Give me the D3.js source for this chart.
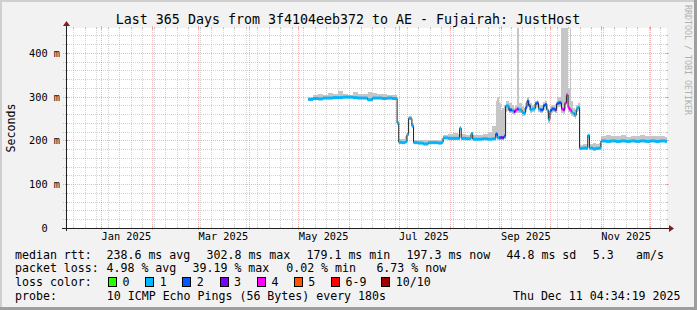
<!DOCTYPE html>
<html>
<head>
<meta charset="utf-8">
<script src="https://cdn.jsdelivr.net/npm/d3@7"></script>
<style>
  body { margin: 0; background: #f2f2f2; }
  svg { display: block; }
  text { font-family: "DejaVu Sans Mono", monospace; white-space: pre; fill: #000; }
</style>
</head>
<body>
<svg id="chart" width="697" height="310"></svg>
<script>
// ---- data ----
var sampleDates = [
  "2025-05-07","2025-05-10","2025-05-13","2025-05-16","2025-05-19","2025-05-22","2025-05-25","2025-05-28",
  "2025-05-31","2025-06-03","2025-06-06","2025-06-09","2025-06-12","2025-06-15","2025-06-18","2025-06-21",
  "2025-06-24","2025-06-27","2025-06-30","2025-07-01","2025-07-03","2025-07-05","2025-07-06","2025-07-07",
  "2025-07-08","2025-07-09","2025-07-10","2025-07-13","2025-07-16","2025-07-19","2025-07-22","2025-07-25",
  "2025-07-27","2025-07-28","2025-07-31","2025-08-03","2025-08-06","2025-08-07","2025-08-08","2025-08-11",
  "2025-08-14","2025-08-15","2025-08-18","2025-08-21","2025-08-24","2025-08-27","2025-08-29","2025-08-30",
  "2025-08-31","2025-09-01","2025-09-02","2025-09-03","2025-09-04","2025-09-05","2025-09-06","2025-09-08",
  "2025-09-09","2025-09-10","2025-09-11","2025-09-12","2025-09-14","2025-09-15","2025-09-16","2025-09-17",
  "2025-09-18","2025-09-19","2025-09-20","2025-09-22","2025-09-23","2025-09-24","2025-09-25","2025-09-27",
  "2025-09-28","2025-09-29","2025-09-30","2025-10-01","2025-10-02","2025-10-03","2025-10-04","2025-10-05",
  "2025-10-06","2025-10-08","2025-10-09","2025-10-10","2025-10-11","2025-10-12","2025-10-13","2025-10-14",
  "2025-10-15","2025-10-16","2025-10-17","2025-10-18","2025-10-19","2025-10-21","2025-10-23","2025-10-24",
  "2025-10-25","2025-10-27","2025-10-29","2025-10-31","2025-11-01","2025-11-04","2025-11-07","2025-11-10",
  "2025-11-13","2025-11-16","2025-11-19","2025-11-22","2025-11-25","2025-11-28","2025-12-01","2025-12-04",
  "2025-12-07","2025-12-10"
];
// median rtt in ms
var medianMs = [
  294,296,295,297,297,298,298,299,
  299,298,297,297,293,297,297,296,
  297,296,240,196,195,197,214,251,
  250,233,195,194,192,195,195,194,
  196,206,205,205,205,228,205,204,
  216,203,203,204,203,204,215,207,
  206,207,206,210,279,279,270,268,
  266,270,272,270,264,262,275,290,
  280,270,272,284,286,272,270,280,
  282,270,248,268,272,272,270,284,
  286,272,270,285,304,275,270,265,
  262,258,272,276,182,183,182,212,
  183,181,182,183,199,198,199,198,
  199,198,199,198,199,198,199,198,
  199,198
];
// lowest and highest ping of the smoke, ms
var smokeLoMs = [
  291,293,292,294,294,295,295,296,
  296,295,294,294,290,294,294,293,
  294,293,236,193,192,194,210,247,
  246,229,192,191,189,192,192,191,
  193,203,202,202,202,224,202,201,
  212,200,200,201,200,200,205,202,
  202,202,201,204,265,268,262,260,
  258,262,262,262,256,255,266,278,
  270,262,264,274,276,264,262,270,
  272,262,240,258,262,264,262,274,
  276,262,260,272,285,265,260,256,
  254,250,264,268,178,179,178,206,
  179,177,178,179,196,195,196,195,
  196,195,196,195,196,195,196,195,
  196,195
];
var smokeHiMs = [
  300,303,306,305,309,306,312,307,
  305,311,306,307,310,309,307,306,
  304,305,245,203,204,210,218,256,
  255,240,200,201,200,202,201,200,
  203,212,215,216,215,232,214,213,
  220,212,213,215,220,232,290,300,
  285,270,275,280,290,290,285,280,
  275,282,460,285,278,275,285,300,
  292,285,282,290,293,283,280,288,
  290,283,262,278,282,282,284,295,
  300,460,460,460,460,320,460,290,
  275,270,282,285,190,192,191,215,
  193,194,193,194,210,212,211,210,
  212,209,211,210,212,210,211,210,
  210,209
];
// lost pings out of 10
var lossCount = [
  1,1,1,1,1,1,1,1,
  1,1,1,1,1,1,1,1,
  1,1,1,1,1,1,1,1,
  1,1,1,1,1,1,1,1,
  1,1,1,1,1,1,1,1,
  1,1,1,1,1,1,2,1,
  2,3,3,2,1,1,2,1,
  3,4,2,1,1,1,2,2,
  2,1,1,2,2,1,2,2,
  2,1,1,2,2,2,3,2,
  2,4,3,4,4,4,4,1,
  1,1,1,1,1,1,1,1,
  1,1,1,1,1,1,1,1,
  1,1,1,1,1,1,1,1,
  1,1
];

var lossLabels = ["0", "1", "2", "3", "4", "5", "6-9", "10/10"];
var lossColors = ["#26ff00", "#00b8ff", "#0059ff", "#7e00ff", "#ff00ff", "#ff5500", "#ff0000", "#a10000"];
var yTickMs = [0, 100, 200, 300, 400];
var monthLabelDates = ["2025-01-16", "2025-03-16", "2025-05-16", "2025-07-16", "2025-09-16", "2025-11-16"];

var titleText = "Last 365 Days from 3f4104eeb372 to AE - Fujairah: JustHost";
var medianStats = ["238.6 ms avg", "302.8 ms max", "179.1 ms min", "197.3 ms now", "44.8 ms sd", "5.3", "am/s"];
var lossStats = ["4.98 % avg", "39.19 % max", "0.02 % min", "6.73 % now"];
var probeText = "10 ICMP Echo Pings (56 Bytes) every 180s";
var stampText = "Thu Dec 11 04:34:19 2025";

// ---- layout ----
var W = 697, H = 310;
var plot = { left: 67, right: 667, top: 28, bottom: 228 };
var parse = d3.utcParse("%Y-%m-%d");
var endTime = new Date(Date.UTC(2025, 11, 11, 4, 34, 19));
var startTime = new Date(endTime.getTime() - 365 * 864e5);

var x = d3.scaleUtc().domain([startTime, endTime]).range([plot.left, plot.right]);
var y = d3.scaleLinear().domain([0, 457.1]).range([plot.bottom, plot.top]);

var samples = sampleDates.map(function (d, i) {
  return { t: parse(d), med: medianMs[i], lo: smokeLoMs[i], hi: smokeHiMs[i], loss: lossCount[i] };
});
samples.forEach(function (s, i) {
  s.t1 = i < samples.length - 1 ? samples[i + 1].t : endTime;
});
function lossBucket(n) { return n <= 5 ? n : (n < 10 ? 6 : 7); }

var svg = d3.select("#chart");

// background + frame
svg.append("rect").attr("width", W).attr("height", H).attr("fill", "#f2f2f2");
svg.append("rect").attr("x", 0).attr("y", 0).attr("width", W).attr("height", 2).attr("fill", "#cfcfcf");
svg.append("rect").attr("x", 0).attr("y", 0).attr("width", 2).attr("height", H).attr("fill", "#cfcfcf");
svg.append("rect").attr("x", W - 3).attr("y", 0).attr("width", 3).attr("height", H).attr("fill", "#9e9e9e");
svg.append("rect").attr("x", 0).attr("y", H - 3).attr("width", W).attr("height", 3).attr("fill", "#9e9e9e");

svg.append("rect")
  .attr("x", plot.left).attr("y", plot.top)
  .attr("width", plot.right - plot.left).attr("height", plot.bottom - plot.top)
  .attr("fill", "#fff");

svg.append("clipPath").attr("id", "clip")
  .append("rect")
  .attr("x", plot.left).attr("y", plot.top)
  .attr("width", plot.right - plot.left).attr("height", plot.bottom - plot.top);

// grid
var grid = svg.append("g").attr("shape-rendering", "crispEdges");
var minorY = d3.range(0, 457, 20).filter(function (v) { return v % 100 !== 0; });
var majorY = d3.range(0, 457, 100).filter(function (v) { return v > 0; });
var weeks = d3.utcSunday.range(startTime, endTime);
var months = d3.utcMonth.range(startTime, endTime);

function vlines(vals, color, op, tick) {
  grid.selectAll(null).data(vals).enter().append("line")
    .attr("x1", function (d) { return Math.round(x(d)) + 0.5; })
    .attr("x2", function (d) { return Math.round(x(d)) + 0.5; })
    .attr("y1", plot.top).attr("y2", plot.bottom)
    .attr("stroke", color).attr("stroke-opacity", op).attr("stroke-dasharray", "1,1");
  grid.selectAll(null).data(vals).enter().append("path")
    .attr("d", function (d) {
      var px = Math.round(x(d)) + 0.5;
      return "M" + px + "," + (plot.top - tick) + "V" + (plot.top + tick) +
        "M" + px + "," + (plot.bottom - tick) + "V" + (plot.bottom + tick);
    })
    .attr("stroke", color).attr("stroke-opacity", op);
}
function hlines(vals, color, op, tick) {
  grid.selectAll(null).data(vals).enter().append("line")
    .attr("x1", plot.left - 4).attr("x2", plot.right + 2)
    .attr("y1", function (d) { return Math.round(y(d)) + 0.5; })
    .attr("y2", function (d) { return Math.round(y(d)) + 0.5; })
    .attr("stroke", color).attr("stroke-opacity", op).attr("stroke-dasharray", "1,1");
  grid.selectAll(null).data(vals).enter().append("path")
    .attr("d", function (d) {
      var py = Math.round(y(d)) + 0.5;
      return "M" + (plot.left - tick) + "," + py + "H" + (plot.left + tick) +
        "M" + (plot.right - tick) + "," + py + "H" + (plot.right + tick);
    })
    .attr("stroke", color).attr("stroke-opacity", op);
}
vlines(weeks.filter(function (w) { return w.getUTCDate() !== 1; }), "#8f8f8f", 0.4, 1);
hlines(minorY, "#8f8f8f", 0.4, 1);
vlines(months, "#de4f4f", 0.4, 2);
hlines(majorY, "#de4f4f", 0.4, 2);

// smoke
var data = svg.append("g").attr("clip-path", "url(#clip)");
data.selectAll(".smoke")
  .data(samples)
  .enter()
  .append("rect")
  .attr("class", "smoke")
  .attr("x", function (d) { return x(d.t); })
  .attr("width", function (d) { return x(d.t1) - x(d.t); })
  .attr("y", function (d) { return y(d.hi); })
  .attr("height", function (d) { return y(d.lo) - y(d.hi); })
  .attr("fill", "#c6c6c6")
  .attr("shape-rendering", "crispEdges");

// median: thin dark step line, then loss-coloured segments
var stepPts = samples.map(function (d) { return [x(d.t), y(d.med)]; });
var last = samples[samples.length - 1];
stepPts.push([x(last.t1), y(last.med)]);
data.append("path")
  .attr("d", d3.line().curve(d3.curveStepAfter)(stepPts))
  .attr("fill", "none")
  .attr("stroke", "#202020")
  .attr("stroke-width", 1);

data.selectAll(".med")
  .data(samples)
  .enter()
  .append("line")
  .attr("class", "med")
  .attr("x1", function (d) { return x(d.t); })
  .attr("x2", function (d) { return x(d.t1); })
  .attr("y1", function (d) { return y(d.med); })
  .attr("y2", function (d) { return y(d.med); })
  .attr("stroke", function (d) { return lossColors[lossBucket(d.loss)]; })
  .attr("stroke-width", 3);

// axes
var xAxis = d3.axisBottom(x)
  .tickValues(monthLabelDates.map(parse))
  .tickFormat(d3.utcFormat("%b %Y"))
  .tickSize(0).tickPadding(6);
var gx = svg.append("g").attr("transform", "translate(0," + plot.bottom + ")").call(xAxis);
gx.select(".domain").remove();
gx.selectAll("text").attr("font-size", "10.3px").attr("font-family", null).attr("dy", "0.71em").attr("y", 5);

var yAxis = d3.axisLeft(y)
  .tickValues(yTickMs)
  .tickFormat(function (d) { return d === 0 ? "0  " : d + " m"; })
  .tickSize(0).tickPadding(7);
var gy = svg.append("g").attr("transform", "translate(" + plot.left + ",0)").call(yAxis);
gy.select(".domain").remove();
gy.selectAll("text").attr("font-size", "10.3px").attr("font-family", null);

svg.append("line")
  .attr("x1", plot.left - 5).attr("x2", plot.right + 3)
  .attr("y1", plot.bottom + 0.5).attr("y2", plot.bottom + 0.5)
  .attr("stroke", "#1f1f1f").attr("shape-rendering", "crispEdges");
svg.append("line")
  .attr("x1", plot.left - 0.5).attr("x2", plot.left - 0.5)
  .attr("y1", plot.bottom + 3).attr("y2", plot.top - 3)
  .attr("stroke", "#1f1f1f").attr("shape-rendering", "crispEdges");
svg.append("path")
  .attr("d", "M" + (plot.right + 2) + "," + (plot.bottom - 3) + "L" + (plot.right + 7) + "," + (plot.bottom + 0.5) +
    "L" + (plot.right + 2) + "," + (plot.bottom + 4) + "Z")
  .attr("fill", "#801f1f");
svg.append("path")
  .attr("d", "M" + (plot.left - 4) + "," + (plot.top - 2) + "L" + (plot.left - 0.5) + "," + (plot.top - 7) +
    "L" + (plot.left + 3) + "," + (plot.top - 2) + "Z")
  .attr("fill", "#801f1f");

// texts
svg.append("text").attr("x", 348).attr("y", 24).attr("text-anchor", "middle")
  .attr("font-size", "13.3px").text(titleText);
svg.append("text").attr("transform", "translate(14.5,128) rotate(-90)").attr("text-anchor", "middle")
  .attr("font-size", "11.6px").text("Seconds");
svg.append("text").attr("transform", "translate(685,5) rotate(90)")
  .attr("font-size", "8.3px").style("fill", "#b0b0b0").text("RRDTOOL / TOBI OETIKER");

var legend = svg.append("g").attr("font-size", "11.6px");
var rowY = [258.5, 272.3, 286, 300];
legend.append("text").attr("x", 15).attr("y", rowY[0]).text("median rtt:");
var medX = [106.5, 206.5, 306.5, 406.5, 506.5, 592.8, 636];
legend.selectAll(null).data(medianStats).enter().append("text")
  .attr("x", function (d, i) { return medX[i]; }).attr("y", rowY[0]).text(function (d) { return d; });

legend.append("text").attr("x", 15).attr("y", rowY[1]).text("packet loss:");
var lossX = [106.5, 192.5, 286.2, 376.4];
legend.selectAll(null).data(lossStats).enter().append("text")
  .attr("x", function (d, i) { return lossX[i]; }).attr("y", rowY[1]).text(function (d) { return d; });

legend.append("text").attr("x", 15).attr("y", rowY[2]).text("loss color:");
var swX = [108, 145.3, 182.2, 219.6, 256.9, 293.8, 331.1, 381.3];
legend.selectAll(null).data(lossLabels).enter().append("rect")
  .attr("x", function (d, i) { return Math.round(swX[i]) + 0.5; })
  .attr("y", 277.5).attr("width", 8).attr("height", 9)
  .attr("fill", function (d, i) { return lossColors[i]; })
  .attr("stroke", "#000").attr("shape-rendering", "crispEdges");
legend.selectAll(null).data(lossLabels).enter().append("text")
  .attr("x", function (d, i) { return swX[i] + 14.5; }).attr("y", rowY[2]).text(function (d) { return d; });

legend.append("text").attr("x", 15).attr("y", rowY[3]).text("probe:");
legend.append("text").attr("x", 106.8).attr("y", rowY[3]).text(probeText);
legend.append("text").attr("x", 680.5).attr("y", rowY[3]).attr("text-anchor", "end").text(stampText);
</script>
</body>
</html>
